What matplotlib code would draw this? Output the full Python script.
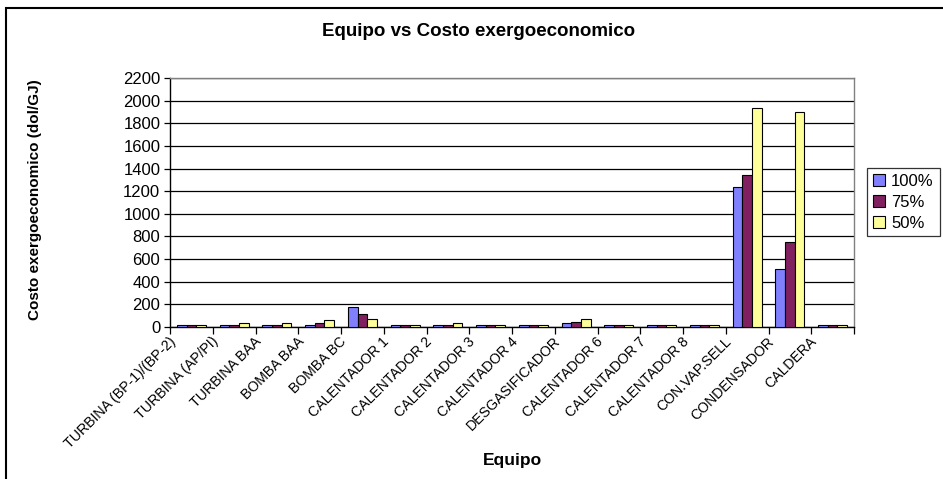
import matplotlib
matplotlib.use("Agg")
import matplotlib.pyplot as plt
import matplotlib.transforms as mtransforms
import numpy as np

plt.rcParams['font.family'] = ['Liberation Sans', 'DejaVu Sans']

equipos = [
    "TURBINA (BP-1)/(BP-2)", "TURBINA (AP/PI)", "TURBINA BAA", "BOMBA BAA",
    "BOMBA BC", "CALENTADOR 1", "CALENTADOR 2", "CALENTADOR 3", "CALENTADOR 4",
    "DESGASIFICADOR", "CALENTADOR 6", "CALENTADOR 7", "CALENTADOR 8",
    "CON.VAP.SELL", "CONDENSADOR", "CALDERA",
]
carga_100 = [18, 18, 18, 20, 174, 20, 18, 16, 16, 33, 16, 16, 16, 1240, 510, 16]
carga_75 = [22, 22, 22, 35, 115, 20, 22, 16, 16, 47, 16, 16, 16, 1346, 748, 16]
carga_50 = [22, 33, 33, 65, 68, 20, 33, 22, 22, 68, 22, 22, 22, 1932, 1900, 16]
series_labels = ["100%", "75%", "50%"]
colores = ["#8080FF", "#802060", "#FFFF99"]

fig = plt.figure(figsize=(9.43, 4.79), dpi=100)
ax = fig.add_axes([170 / 943, 1 - 327 / 479, (854 - 170) / 943, (327 - 78) / 479])

x = np.arange(len(equipos))
w = 0.226
for i, (vals, lab, col) in enumerate(zip([carga_100, carga_75, carga_50], series_labels, colores)):
    ax.bar(x + (i - 1) * w, vals, width=w, color=col, edgecolor="black",
           linewidth=0.8, label=lab, zorder=3)

ax.set_xlim(-0.5, len(equipos) - 0.5)
ax.set_ylim(0, 2200)
ax.set_yticks(np.arange(0, 2201, 200))
ax.yaxis.grid(True, color="black", linewidth=0.9, zorder=0)
ax.set_axisbelow(True)

# category boundaries carry the tick marks, centres carry the labels
ax.set_xticks(np.arange(-0.5, len(equipos), 1.0))
ax.set_xticklabels([])
ax.tick_params(axis="x", which="major", direction="out", length=5, width=0.9, color="black")
ax.set_xticks(x, minor=True)
ax.set_xticklabels(equipos, minor=True, rotation=45, ha="right", va="center",
                   rotation_mode="anchor", fontsize=10.2)
ax.tick_params(axis="x", which="minor", length=0, pad=9)
shift = mtransforms.ScaledTranslation(-18 / 100, 0, fig.dpi_scale_trans)
for lbl in ax.get_xticklabels(minor=True):
    lbl.set_transform(lbl.get_transform() + shift)
ax.tick_params(axis="y", direction="out", length=4, width=0.9, labelsize=12, pad=3)

for side in ["top", "right"]:
    ax.spines[side].set_color("#808080")
    ax.spines[side].set_linewidth(1.0)
for side in ["left", "bottom"]:
    ax.spines[side].set_color("black")
    ax.spines[side].set_linewidth(1.0)

fig.text(479 / 943, 1 - 32 / 479, "Equipo vs Costo exergoeconomico",
         ha="center", va="center", fontsize=13.5, fontweight="bold")
fig.text(512 / 943, 1 - 460 / 479, "Equipo", ha="center", va="center",
         fontsize=12.5, fontweight="bold")
fig.text(35 / 943, 1 - 200 / 479, "Costo exergoeconomico (dol/GJ)", ha="center",
         va="center", rotation=90, fontsize=11, fontweight="bold")

leg = fig.legend(loc="upper left", bbox_to_anchor=(867 / 943, 1 - 168 / 479),
                 frameon=True, fancybox=False, edgecolor="black", fontsize=12,
                 handlelength=0.7, handleheight=0.7, handletextpad=0.4,
                 labelspacing=0.35, borderpad=0.35, borderaxespad=0)
leg.get_frame().set_linewidth(0.9)

# outer chart frame
fig.patches.append(plt.Rectangle((6 / 943, -0.05), 1.1, 1 - 8 / 479 + 0.05,
                                 transform=fig.transFigure, fill=False,
                                 edgecolor="black", linewidth=1.5))

fig.savefig("out.png", dpi=100)
